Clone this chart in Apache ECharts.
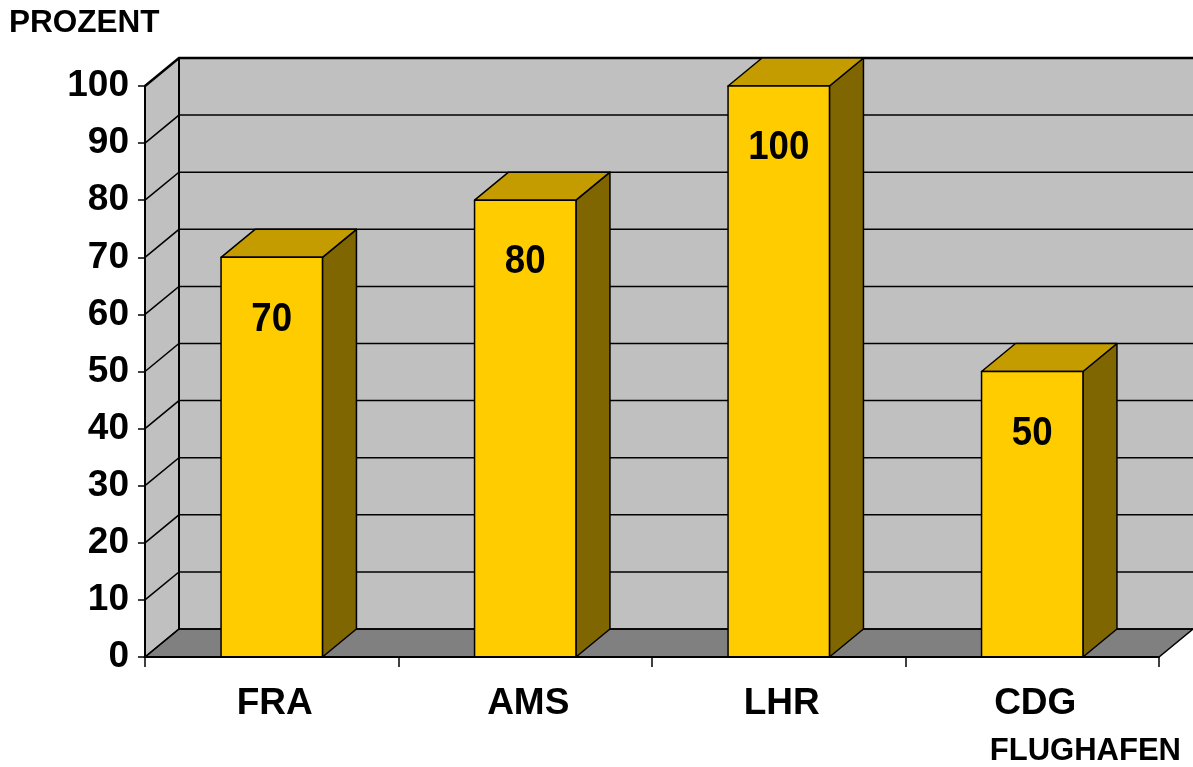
<!DOCTYPE html>
<html>
<head>
<meta charset="utf-8">
<title>Flughafen</title>
<script src="https://cdn.jsdelivr.net/npm/echarts@6/dist/echarts.min.js"></script>
<style>
  html, body { margin: 0; padding: 0; background: #fff; }
  #chart { width: 1193px; height: 767px; }
</style>
</head>
<body>
<div id="chart"></div>
<script>
// Airports and their percentage values
const categories = ['FRA', 'AMS', 'LHR', 'CDG'];
const values = [70, 80, 100, 50];

// Value axis range and step
const yMin = 0;
const yMax = 100;
const yStep = 10;

// Pseudo-3D depth of walls and bars, in pixels
const DEPTH_X = 34;
const DEPTH_Y = 28;

const FONT = '"Liberation Sans", Arial, sans-serif';
const LINE = '#000';

// Back wall, side wall, floor and the gridlines on them
function renderWalls(params, api) {
  const cs = params.coordSys;
  const L = cs.x, R = cs.x + cs.width;
  const B = api.coord([0, yMin])[1];
  const T = api.coord([0, yMax])[1];
  const children = [];
  // back wall
  children.push({
    type: 'rect',
    shape: { x: L + DEPTH_X, y: T - DEPTH_Y, width: R - L, height: B - T },
    style: { fill: '#c0c0c0' }
  });
  // left side wall
  children.push({
    type: 'polygon',
    shape: { points: [[L, B], [L, T], [L + DEPTH_X, T - DEPTH_Y], [L + DEPTH_X, B - DEPTH_Y]] },
    style: { fill: '#c0c0c0' }
  });
  // floor
  children.push({
    type: 'polygon',
    shape: { points: [[L, B], [R, B], [R + DEPTH_X, B - DEPTH_Y], [L + DEPTH_X, B - DEPTH_Y]] },
    style: { fill: '#808080', stroke: LINE, lineWidth: 1.5 }
  });
  // gridlines across the side and back walls
  for (let v = yMin; v <= yMax; v += yStep) {
    const y = api.coord([0, v])[1];
    children.push({
      type: 'polyline',
      shape: { points: [[L, y], [L + DEPTH_X, y - DEPTH_Y], [R + DEPTH_X + 2, y - DEPTH_Y]] },
      style: { stroke: LINE, lineWidth: v === yMax ? 2.5 : 1.5, fill: null }
    });
  }
  // back corner edge
  children.push({
    type: 'line',
    shape: { x1: L + DEPTH_X, y1: B - DEPTH_Y, x2: L + DEPTH_X, y2: T - DEPTH_Y },
    style: { stroke: LINE, lineWidth: 2 }
  });
  return { type: 'group', children: children };
}

// Box-shaped bar with front, top and side faces plus value label
function renderBar(params, api) {
  const idx = api.value(0);
  const val = api.value(1);
  const top = api.coord([idx, val]);
  const base = api.coord([idx, yMin]);
  const band = api.size([1, 0])[0];
  const w = band * 0.4;
  const x0 = top[0] - w / 2, x1 = top[0] + w / 2;
  const yt = top[1], yb = base[1];
  const edge = { stroke: LINE, lineWidth: 1.5, lineJoin: 'round' };
  return {
    type: 'group',
    children: [
      {
        type: 'polygon',
        shape: { points: [[x1, yt], [x1 + DEPTH_X, yt - DEPTH_Y], [x1 + DEPTH_X, yb - DEPTH_Y], [x1, yb]] },
        style: Object.assign({ fill: '#806600' }, edge)
      },
      {
        type: 'polygon',
        shape: { points: [[x0, yt], [x1, yt], [x1 + DEPTH_X, yt - DEPTH_Y], [x0 + DEPTH_X, yt - DEPTH_Y]] },
        style: Object.assign({ fill: '#c49c00' }, edge)
      },
      {
        type: 'rect',
        shape: { x: x0, y: yt, width: w, height: yb - yt },
        style: Object.assign({ fill: '#ffcc00' }, edge)
      },
      {
        type: 'text',
        x: top[0],
        y: yt + 62,
        scaleX: 0.94,
        scaleY: 1.05,
        style: {
          text: String(val),
          x: 0,
          y: 0,
          align: 'center',
          verticalAlign: 'middle',
          fill: '#000',
          font: 'bold 39px ' + FONT
        }
      }
    ]
  };
}

const chart = echarts.init(document.getElementById('chart'), null, { renderer: 'canvas' });

chart.setOption({
  animation: false,
  backgroundColor: '#fff',
  title: [
    {
      text: 'PROZENT', left: 9, top: 7, padding: 0,
      textStyle: { fontFamily: FONT, fontSize: 31.5, fontWeight: 'bold', color: '#000' }
    },
    {
      text: 'FLUGHAFEN', right: 12, bottom: 0, padding: 0,
      textStyle: { fontFamily: FONT, fontSize: 31, fontWeight: 'bold', color: '#000' }
    }
  ],
  grid: { left: 145, right: 34, top: 86, bottom: 110 },
  xAxis: {
    type: 'category',
    data: categories,
    boundaryGap: true,
    z: 10,
    axisLine: { show: true, lineStyle: { color: '#000', width: 2 } },
    axisTick: { show: true, length: 10, alignWithLabel: false, lineStyle: { color: '#000', width: 1.5 } },
    axisLabel: {
      margin: 28,
      color: '#000',
      fontFamily: FONT,
      fontSize: 37,
      fontWeight: 'bold',
      padding: [0, 0, 0, 6]
    },
    splitLine: { show: false }
  },
  yAxis: {
    type: 'value',
    min: yMin,
    max: yMax,
    interval: yStep,
    z: 10,
    axisLine: { show: true, lineStyle: { color: '#000', width: 2 } },
    axisTick: { show: true, length: 7, lineStyle: { color: '#000', width: 1.5 } },
    axisLabel: {
      margin: 16,
      color: '#000',
      fontFamily: FONT,
      fontSize: 37,
      fontWeight: 'bold'
    },
    splitLine: { show: false }
  },
  series: [
    {
      type: 'custom',
      name: 'walls',
      z: 1,
      clip: false,
      silent: true,
      renderItem: renderWalls,
      data: [[0, 0]]
    },
    {
      type: 'custom',
      name: 'bars',
      z: 3,
      clip: false,
      renderItem: renderBar,
      encode: { x: 0, y: 1 },
      data: categories.map((c, i) => [i, values[i]])
    }
  ]
});
</script>
</body>
</html>
